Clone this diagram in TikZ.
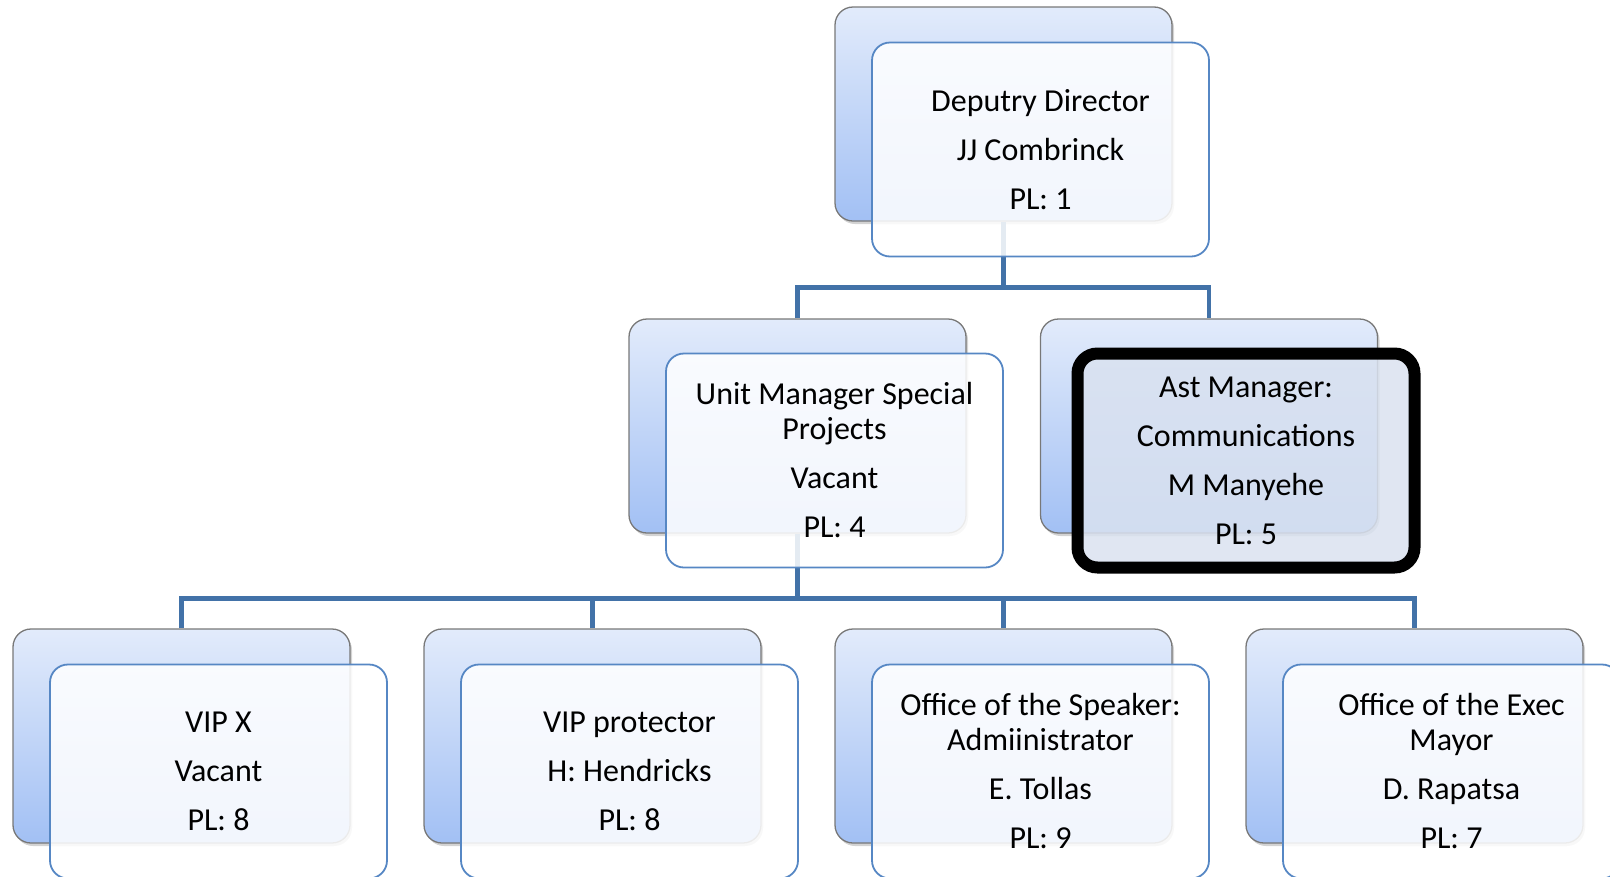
\documentclass[tikz,border=0pt]{standalone}
\usepackage{fontspec}
\setmainfont{Carlito}
\usetikzlibrary{shadows}
\definecolor{connc}{RGB}{66,114,168}
\definecolor{frontc}{RGB}{86,135,196}
\definecolor{backtop}{RGB}{226,235,251}
\definecolor{backbot}{RGB}{162,192,244}
\definecolor{backline}{RGB}{120,120,120}
\definecolor{hlfill}{RGB}{218,226,240}
\tikzset{
  backbox/.style={rectangle, rounded corners=18pt, minimum width=337pt, minimum height=214pt, inner sep=0pt,
    draw=backline, line width=1.3pt, top color=backtop, bottom color=backbot, shading angle=0,
    drop shadow={shadow xshift=2pt, shadow yshift=-3pt, opacity=0.35}},
  frontbox/.style={rectangle, rounded corners=18pt, minimum width=337pt, minimum height=214pt, inner sep=0pt,
    draw=frontc, line width=1.8pt, fill=white, fill opacity=0.86, text opacity=1, align=center,
    font=\fontsize{32}{35}\selectfont},
  hlbox/.style={rectangle, rounded corners=20pt, minimum width=337pt, minimum height=214pt, inner sep=0pt,
    draw=black, line width=12pt, fill=hlfill, fill opacity=0.85, draw opacity=1, text opacity=1, align=center,
    font=\fontsize{32}{35}\selectfont},
  conn/.style={draw=connc, line width=4.8pt}
}
\begin{document}
\begin{tikzpicture}[x=1pt,y=-1pt]
\useasboundingbox (0,0) rectangle (1610,876);
% back boxes
\node[backbox] (b0) at (1003.5,114) {};
\node[backbox] (b1) at (797.5,426) {};
\node[backbox] (b2) at (1209,426) {};
\node[backbox] (c1) at (181.5,736) {};
\node[backbox] (c2) at (592.5,736) {};
\node[backbox] (c3) at (1003.5,736) {};
\node[backbox] (c4) at (1414.5,736) {};
% connectors
\draw[conn] (b0.south) -- ++(0,66) coordinate (j0);
\draw[conn] (b1.north) |- (j0) -| (b2.north);
\draw[conn] (b1.south) -- ++(0,65) coordinate (j1);
\draw[conn] (c1.north) |- (j1) -| (c4.north);
\draw[conn] (c2.north) -- (c2.north |- j1);
\draw[conn] (c3.north) -- (c3.north |- j1);
% front boxes
\node[frontbox] (f0) at (1040.5,149.5) {Deputry Director\\[14pt]JJ Combrinck\\[14pt]PL: 1};
\node[frontbox] (f1) at (834.5,460.5) {Unit Manager Special\\Projects\\[14pt]Vacant\\[14pt]PL: 4};
\node[hlbox] (f2) at (1246,460.5) {Ast Manager:\\[14pt]Communications\\[14pt]M Manyehe\\[14pt]PL: 5};
\node[frontbox] (g1) at (218.5,771.5) {VIP X\\[14pt]Vacant\\[14pt]PL: 8};
\node[frontbox] (g2) at (629.5,771.5) {VIP protector\\[14pt]H: Hendricks\\[14pt]PL: 8};
\node[frontbox] (g3) at (1040.5,771.5) {Office of the Speaker:\\Admiinistrator\\[14pt]E. Tollas\\[14pt]PL: 9};
\node[frontbox] (g4) at (1451.5,771.5) {Office of the Exec\\Mayor\\[14pt]D. Rapatsa\\[14pt]PL: 7};
\end{tikzpicture}
\end{document}
